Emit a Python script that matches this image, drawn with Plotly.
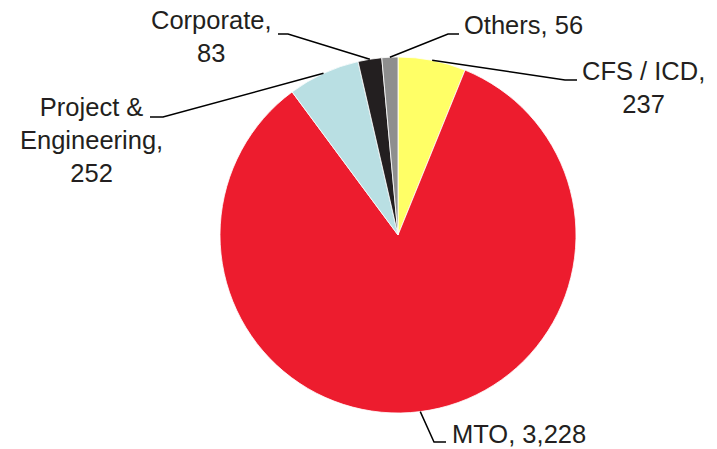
import math
import plotly.graph_objects as go

# ── Data ────────────────────────────────────────────────────────────────────
labels = ['CFS / ICD', 'MTO', 'Project &<br>Engineering', 'Corporate', 'Others']
values = [237, 3228, 252, 83, 56]
colors = ['#FFFF66', '#ED1C2E', '#B9DFE3', '#231F20', '#8E8E8E']

# label text blocks (pixel centre) and leader-line elbow points
label_pos = [(643, 88), (519, 434), (91, 140), (211, 36), (523, 25)]
label_text = ['CFS / ICD,<br>237', 'MTO, 3,228', 'Project &<br>Engineering,<br>252',
              'Corporate,<br>83', 'Others, 56']
elbows = [((565, 80), (577, 80)), ((434, 442), (446, 442)), ((163, 117), (150, 117)),
          ((288, 34), (278, 34)), ((448, 34), (459, 34))]

W, H = 717, 449
CX, CY, R = 398, 235, 178
FONT = 'Liberation Sans, Arial, sans-serif'
TEXT_COLOR = '#231F20'


def px(x, y):
    return x / W, 1 - y / H


fig = go.Figure(go.Pie(
    labels=labels, values=values, sort=False, direction='clockwise', rotation=0,
    marker=dict(colors=colors, line=dict(color='#ffffff', width=0.8)),
    textinfo='none', hoverinfo='label+value',
    domain=dict(x=[(CX - R) / W, (CX + R) / W], y=[1 - (CY + R) / H, 1 - (CY - R) / H]),
))

# leader lines from each slice's mid-angle
total = sum(values)
cum = 0
for v, (elb, end), (tx, ty), txt in zip(values, elbows, label_pos, label_text):
    mid = (cum + v / 2) / total * 2 * math.pi
    cum += v
    ax = CX + R * math.sin(mid)
    ay = CY - R * math.cos(mid)
    x0, y0 = px(ax, ay)
    x1, y1 = px(*elb)
    x2, y2 = px(*end)
    fig.add_shape(type='path', xref='paper', yref='paper',
                  path=f'M {x0} {y0} L {x1} {y1} L {x2} {y2}',
                  line=dict(color='#000000', width=1.5))
    lx, ly = px(tx, ty)
    fig.add_annotation(text=txt, x=lx, y=ly, xref='paper', yref='paper',
                       xanchor='center', yanchor='middle', align='center',
                       showarrow=False,
                       font=dict(family=FONT, size=25.5, color=TEXT_COLOR))

fig.update_layout(
    width=W, height=H,
    margin=dict(l=0, r=0, t=0, b=0),
    paper_bgcolor='#ffffff', plot_bgcolor='#ffffff',
    showlegend=False,
)

fig.write_html('out.html', config={'displayModeBar': False},
               post_script="document.body.style.margin='0';")
